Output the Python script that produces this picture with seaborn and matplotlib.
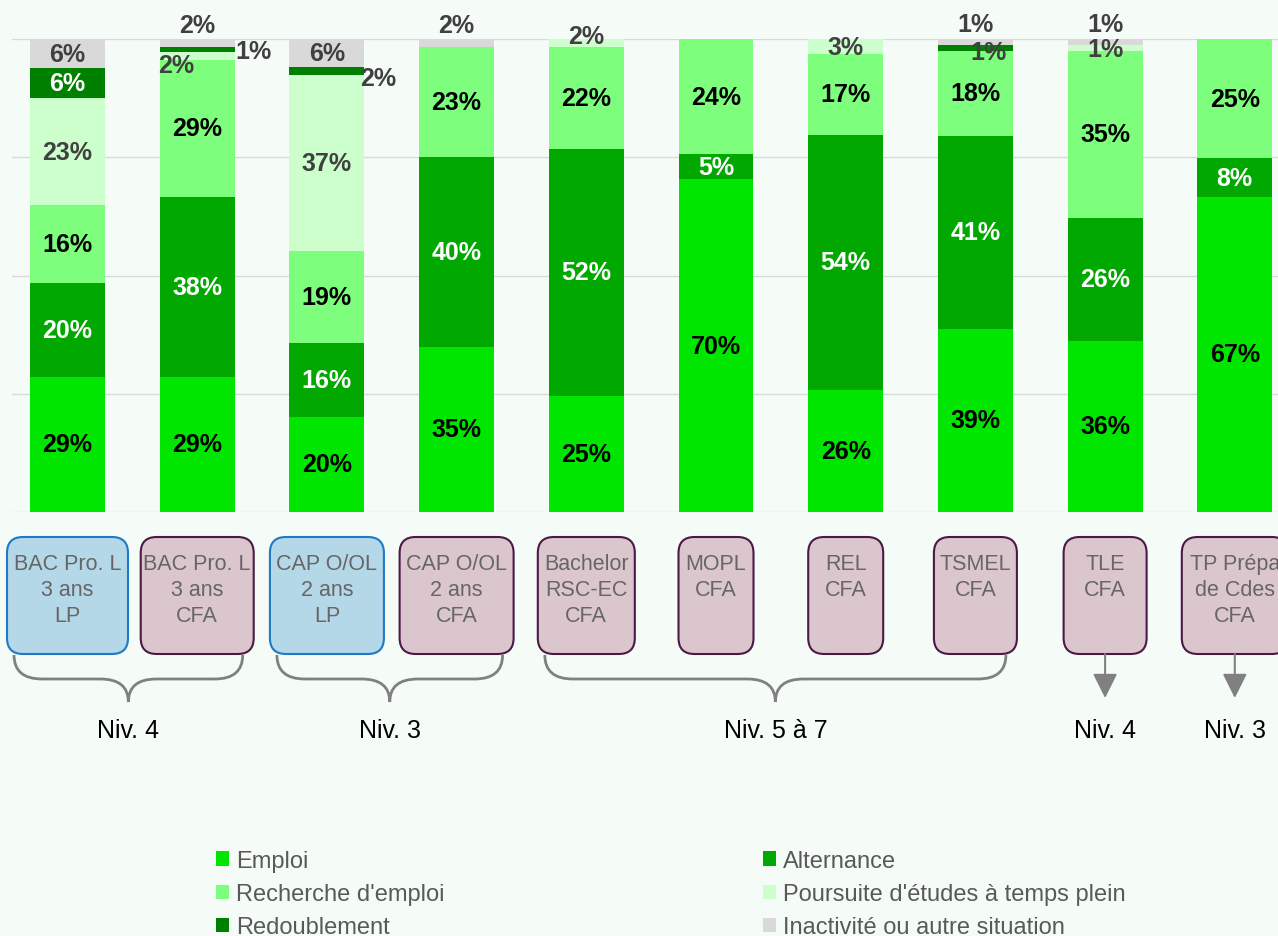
import pandas as pd
import seaborn as sns
import matplotlib.pyplot as plt
from matplotlib.patches import FancyBboxPatch, Patch, PathPatch
from matplotlib.path import Path

W, H = 1278, 937

# ------------ DATA ------------
formations = [
    "BAC Pro. L\n3 ans\nLP", "BAC Pro. L\n3 ans\nCFA", "CAP O/OL\n2 ans\nLP",
    "CAP O/OL\n2 ans\nCFA", "Bachelor\nRSC-EC\nCFA", "MOPL\nCFA", "REL\nCFA",
    "TSMEL\nCFA", "TLE\nCFA", "TP Prépa\nde Cdes\nCFA",
]
situations = [
    "Emploi", "Alternance", "Recherche d'emploi",
    "Poursuite d'études à temps plein", "Redoublement", "Inactivité ou autre situation",
]

emploi       = [28.6, 28.6, 20.1, 34.9, 24.6, 70.3, 25.8, 38.7, 36.2, 66.6]
alternance   = [19.9, 38.0, 15.6, 40.2, 52.1, 5.3, 54.0, 40.8, 26.0, 8.2]
recherche    = [16.3, 29.0, 19.4, 23.2, 21.7, 24.4, 17.0, 18.0, 35.3, 25.2]
poursuite    = [22.8, 1.6, 37.3, 0.0, 1.6, 0.0, 3.2, 0.0, 1.2, 0.0]
redoublement = [6.2, 1.2, 1.7, 0.0, 0.0, 0.0, 0.0, 1.3, 0.0, 0.0]
inactivite   = [6.2, 1.6, 5.9, 1.7, 0.0, 0.0, 0.0, 1.2, 1.3, 0.0]

groups = [("Niv. 4", 0, 1), ("Niv. 3", 2, 3), ("Niv. 5 à 7", 4, 7)]
arrows = [("Niv. 4", 8), ("Niv. 3", 9)]
# -------------------------------

# ------------ STYLE ------------
BG = "#f5fcf7"
colors = ["#00e600", "#00a800", "#7dff7d", "#ccffcc", "#008000", "#d9d9d9"]
label_colors = ["black", "white", "black", "#404040", "white", "#404040"]
OUT_COLOR = "#404040"
box_w = [121, 113, 114, 114, 97, 75, 75, 83, 83, 106]
# small labels moved off their segment: (bar, situation) -> (dx, y)
moved = {
    (1, 5): (0, 102.9), (1, 4): (0.435, 97.5), (1, 3): (-0.165, 94.6),
    (2, 4): (0.395, 91.8),
    (3, 5): (0, 102.9),
    (4, 3): (0, 100.6),
    (7, 5): (0, 103.1), (7, 4): (0.10, 97.2),
    (8, 5): (0, 103.1), (8, 3): (0, 97.9),
}
# -------------------------------

values = [emploi, alternance, recherche, poursuite, redoublement, inactivite]
df = pd.DataFrame({s: v for s, v in zip(situations, values)}, index=formations)
cum = df.cumsum(axis=1)

fig = plt.figure(figsize=(W / 100, H / 100), dpi=100, facecolor=BG)
ax = fig.add_axes([12 / W, 424 / H, 1 - 12 / W, 473 / H])
ax.set_facecolor(BG)

# stacked bars: draw cumulative totals from top to bottom
for k in range(len(situations) - 1, -1, -1):
    d = pd.DataFrame({"formation": formations, "cum": cum.iloc[:, k].values})
    sns.barplot(data=d, x="formation", y="cum", order=formations, color=colors[k],
                saturation=1, width=0.578, linewidth=0, errorbar=None, ax=ax)

ax.set_xlim(-0.428, 9.333)
ax.set_ylim(0, 100)
ax.set_yticks([0, 25, 50, 75, 100])
ax.yaxis.grid(True, color="#d9d9d9", lw=1)
ax.set_axisbelow(True)
ax.set_xticks([])
ax.tick_params(left=False, labelleft=False)
ax.set_xlabel("")
ax.set_ylabel("")
for sp in ax.spines.values():
    sp.set_visible(False)

# value labels
for i, f in enumerate(formations):
    for k, s in enumerate(situations):
        v = df.loc[f, s]
        if v <= 0:
            continue
        x, y, c = i, cum.iloc[i, k] - v / 2, label_colors[k]
        if (i, k) in moved:
            dx, y = moved[(i, k)]
            x = i + dx
            c = OUT_COLOR
        ax.text(x, y, f"{v:.0f}%", ha="center", va="center", fontsize=18,
                fontweight="bold", color=c, family="Liberation Sans", clip_on=False)

# overlay in pixel coordinates for the category boxes, braces and arrows
ov = fig.add_axes([0, 0, 1, 1])
ov.set_xlim(0, W)
ov.set_ylim(H, 0)
ov.axis("off")
ov.patch.set_alpha(0)

centers = [ax.transData.transform((i, 0))[0] for i in range(len(formations))]
BOX_TOP, BOX_BOT = 538, 655
lefts, rights = [], []
for i, f in enumerate(formations):
    cx, w = centers[i], box_w[i]
    lp = f.endswith("LP")
    box = FancyBboxPatch((cx - w / 2, BOX_TOP), w, BOX_BOT - BOX_TOP,
                         boxstyle="round,pad=0,rounding_size=16",
                         facecolor="#b4d8e8" if lp else "#dcc6cd",
                         edgecolor="#1f78c8" if lp else "#4a1a45", lw=1.5)
    ov.add_patch(box)
    for j, line in enumerate(f.split("\n")):
        ov.text(cx, 565 + 26 * j, line, ha="center", va="center",
                fontsize=15.5, color="#666666", family="Liberation Sans")
    lefts.append(cx - w / 2)
    rights.append(cx + w / 2)


def brace(x0, x1, y0=656, ym=680, yt=703, r=28):
    xc = (x0 + x1) / 2
    verts = [(x0, y0), (x0, ym), (x0 + r, ym), (xc - r, ym), (xc, ym), (xc, yt),
             (xc, ym), (xc + r, ym), (x1 - r, ym), (x1, ym), (x1, y0)]
    codes = [Path.MOVETO, Path.CURVE3, Path.CURVE3, Path.LINETO, Path.CURVE3, Path.CURVE3,
             Path.CURVE3, Path.CURVE3, Path.LINETO, Path.CURVE3, Path.CURVE3]
    return PathPatch(Path(verts, codes), facecolor="none", edgecolor="#808080", lw=2)


for name, a, b in groups:
    x0, x1 = lefts[a] + 7, rights[b] - 11
    ov.add_patch(brace(x0, x1))
    ov.text((x0 + x1) / 2, 731, name, ha="center", va="center", fontsize=18,
            color="black", family="Liberation Sans")

for name, i in arrows:
    cx = centers[i]
    ov.annotate("", xy=(cx, 699), xytext=(cx, 655),
                arrowprops=dict(arrowstyle="-|>,head_length=0.75,head_width=0.375",
                                color="#808080", lw=1.5, mutation_scale=20,
                                shrinkA=0, shrinkB=0))
    ov.text(cx, 731, name, ha="center", va="center", fontsize=18,
            color="black", family="Liberation Sans")

# legend: two columns
handles = [Patch(facecolor=c, edgecolor="none") for c in colors]
for cols, x in [((0, 2, 4), 216), ((1, 3, 5), 763)]:
    fig.legend([handles[k] for k in cols], [situations[k] for k in cols],
               loc="upper left", bbox_to_anchor=(x / W, 1 - 851 / H), frameon=False,
               handlelength=0.56, handleheight=0.56, handletextpad=0.28,
               labelspacing=0.47, borderpad=0, borderaxespad=0, labelcolor="#595959",
               prop={"family": "Liberation Sans", "size": 17})

fig.savefig("out.png", dpi=100, facecolor=fig.get_facecolor())
